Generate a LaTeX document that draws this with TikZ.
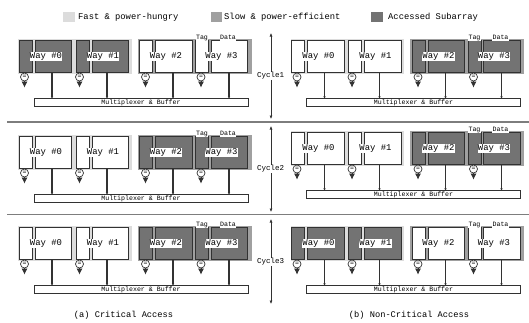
\documentclass[tikz,border=0pt]{standalone}
\usepackage{fontspec}
\setmainfont{Liberation Mono}
\usepackage{xcolor}
\definecolor{FastGray}{RGB}{220, 220, 220}
\definecolor{SlowGray}{RGB}{160, 160, 160}
\definecolor{AccessGray}{RGB}{115, 115, 115}
\definecolor{BoxBlack}{RGB}{50, 50, 50}
\definecolor{RuleGray}{RGB}{125, 125, 125}
\usetikzlibrary{
    arrows.meta,
    calc
    }
\tikzset{
    tagbox/.style={draw=BoxBlack, line width=0.9pt, minimum width=13pt, minimum height=32pt, inner sep=0pt},
    databox/.style={draw=BoxBlack, line width=0.9pt, minimum width=36.5pt, minimum height=32pt, inner sep=0pt},
    waylabel/.style={fill=white, inner sep=0.4pt, font=\fontsize{8.9}{9}\selectfont},
    smalllabel/.style={fill=white, inner sep=0.3pt, text height=4.6pt, text depth=1.4pt, font=\fontsize{6.6}{7}\selectfont},
    comparebox/.style={draw=BoxBlack, fill=white, circle, line width=0.7pt, minimum size=8pt, inner sep=0pt, font=\fontsize{6.5}{7}\selectfont},
    muxbox/.style={draw=BoxBlack, fill=white, line width=0.7pt, minimum width=214pt, minimum height=8pt, inner sep=0pt, font=\fontsize{6.6}{7}\selectfont},
    busline/.style={BoxBlack, line width=1.1pt, -{Latex[length=2pt,width=2.5pt]}},
    matchline/.style={BoxBlack, line width=0.6pt, -{Latex[length=6pt,width=6pt]}},
    cycleline/.style={BoxBlack, line width=0.6pt, {Latex[length=3.5pt,width=3pt]}-{Latex[length=3.5pt,width=3pt]}},
    cyclelabel/.style={fill=white, inner sep=0.3pt, font=\fontsize{7.5}{8}\selectfont},
    legendlabel/.style={anchor=west, inner sep=0pt, font=\fontsize{8.8}{9}\selectfont},
    divider/.style={RuleGray, line width=1.2pt}
}

% panel, way, fill, tag x, data x, label x, compare x, bus x
\newcommand{\wayunit}[8]{
    \node[tagbox, fill=#3] (#1tag#2) at (#4,56) {};
    \node[databox, fill=#3] (#1data#2) at (#5,56) {};
    \node[waylabel] (#1way#2) at (#6,56.5) {Way \##2};
    \node[comparebox] (#1cmp#2) at (#7,77) {=};
    \coordinate (#1hit#2) at (#7,87.5);
    \draw[matchline] (#1cmp#2) -- (#1hit#2);
    \coordinate (#1tap#2) at (#8,0);
    \draw[busline] (#1data#2.south -| #1tap#2) -- (#1mux.north -| #1tap#2);
}

% panel, x shift, y shift, fill of ways 0 and 1, fill of ways 2 and 3
\newcommand{\waypanel}[5]{
    \begin{scope}[shift={(#2,#3)}]
    \fill[FastGray] (18,38.5) rectangle (131.5,74);
    \fill[SlowGray] (137.5,38.5) rectangle (251.5,74);
    \node[muxbox] (#1mux) at (141,102.8) {\raisebox{-1pt}{Multiplexer \& Buffer}};
    \wayunit{#1}{0}{#4}{25.5}{53.5}{46}{24.5}{52}
    \wayunit{#1}{1}{#4}{82.5}{110.2}{103}{79.5}{107}
    \wayunit{#1}{2}{#5}{146}{174}{166}{145.5}{173}
    \wayunit{#1}{3}{#5}{202}{229.5}{221.5}{201}{229}
    \node[smalllabel] (#1taglabel) at (202,38) {Tag};
    \node[smalllabel] (#1datalabel) at (228,38) {Data};
    \end{scope}
}

\begin{document}
\begin{tikzpicture}[x=1pt, y=-1pt]

    \useasboundingbox (0,0) rectangle (529,322);

    %Legend
    \node[fill=FastGray, minimum width=11.5pt, minimum height=10pt, inner sep=0pt] (fastkey) at (68.8,17) {};
    \node[legendlabel] (fastlabel) at (78,17) {Fast \& power-hungry};
    \node[fill=SlowGray, minimum width=11.5pt, minimum height=10pt, inner sep=0pt] (slowkey) at (216.5,17) {};
    \node[legendlabel] (slowlabel) at (224,17) {Slow \& power-efficient};
    \node[fill=AccessGray, minimum width=11.5pt, minimum height=10pt, inner sep=0pt] (accesskey) at (377,17) {};
    \node[legendlabel] (accesslabel) at (388,17) {Accessed Subarray};

    %Cycle1
    \waypanel{aone}{0}{0}{AccessGray}{white}
    \waypanel{bone}{272.5}{0}{white}{AccessGray}
    \coordinate (cycleonetop) at (271,33);
    \coordinate (cycleonebot) at (271,119);
    \draw[cycleline] (cycleonetop) -- (cycleonebot);
    \node[cyclelabel] (cycleone) at (270.5,76) {Cycle1};
    \draw[divider] (7,122) -- (529,122);

    %Cycle2
    \waypanel{atwo}{0}{96}{white}{AccessGray}
    \waypanel{btwo}{272.5}{92}{white}{AccessGray}
    \coordinate (cycletwotop) at (271,126);
    \coordinate (cycletwobot) at (271,212);
    \draw[cycleline] (cycletwotop) -- (cycletwobot);
    \node[cyclelabel] (cycletwo) at (270.5,169) {Cycle2};
    \draw[divider] (7,214.5) -- (529,214.5);

    %Cycle3
    \waypanel{athree}{0}{187}{white}{AccessGray}
    \waypanel{bthree}{272.5}{187}{AccessGray}{white}
    \coordinate (cyclethreetop) at (271,219);
    \coordinate (cyclethreebot) at (271,304);
    \draw[cycleline] (cyclethreetop) -- (cyclethreebot);
    \node[cyclelabel] (cyclethree) at (270.5,262) {Cycle3};

    %Captions
    \node[inner sep=0pt, font=\fontsize{8.7}{9}\selectfont] (captiona) at (123.5,315) {(a) Critical Access};
    \node[inner sep=0pt, font=\fontsize{8.7}{9}\selectfont] (captionb) at (409,315) {(b) Non-Critical Access};

\end{tikzpicture}
\end{document}
